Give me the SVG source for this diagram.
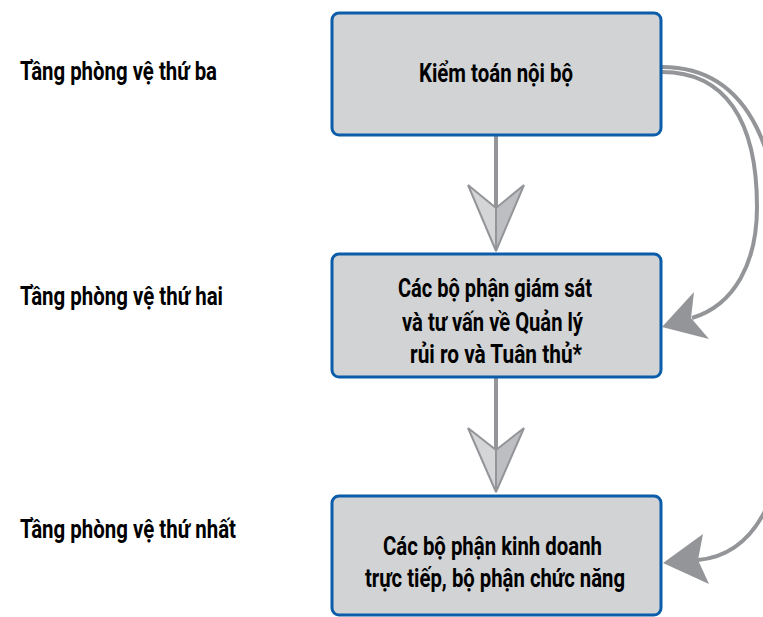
<svg xmlns="http://www.w3.org/2000/svg" width="763" height="617" viewBox="0 0 763 617">
<style>
.box{fill:#d1d3d4;stroke:#0b5ca9;stroke-width:3}
.t{font-family:Roboto,"Liberation Sans",sans-serif;font-weight:bold;font-size:25px;fill:#000}
.shaft{stroke:#939598;stroke-width:4;fill:none}
.curve{stroke:#939598;stroke-width:4;fill:none}
.hl{fill:#d4d5d7;stroke:#939598;stroke-width:2;stroke-linejoin:miter}
.hr{fill:#bdbec1;stroke:#939598;stroke-width:2;stroke-linejoin:miter}
.ah{fill:#939598}
</style>
<rect width="763" height="617" fill="#fff"/>
<g id="labels">
<text class="t" x="20" y="80" textLength="197" lengthAdjust="spacingAndGlyphs">Tầng phòng vệ thứ ba</text>
<text class="t" x="20" y="305" textLength="203" lengthAdjust="spacingAndGlyphs">Tầng phòng vệ thứ hai</text>
<text class="t" x="20" y="538" textLength="216" lengthAdjust="spacingAndGlyphs">Tầng phòng vệ thứ nhất</text>
</g>
<g id="connectors">
<line class="shaft" x1="496" y1="135" x2="496" y2="208"/>
<polygon class="hl" points="468,185 496,208 496,251"/>
<polygon class="hr" points="524,185 496,208 496,251"/>
<line class="shaft" x1="496" y1="377" x2="496" y2="450"/>
<polygon class="hl" points="468,428 496,450 496,492"/>
<polygon class="hr" points="524,428 496,450 496,492"/>
<path class="curve" d="M662,72 C725,72 757,120 757,207 C757,262 735,305 692,318"/>
<polygon class="ah" points="662,327 694,292 691,318 709,339"/>
<path class="curve" d="M662,67 C750,67 785,150 785,300 L785,410 C785,495 755,555 698,560"/>
<polygon class="ah" points="663,563 703,534 698,560 709,584"/>
</g>
<g id="node1">
<rect class="box" x="332" y="13" width="329" height="122" rx="7"/>
<text class="t" x="419" y="82" textLength="154" lengthAdjust="spacingAndGlyphs">Kiểm toán nội bộ</text>
</g>
<g id="node2">
<rect class="box" x="332" y="254" width="329" height="123" rx="7"/>
<text class="t" x="398" y="297" textLength="194" lengthAdjust="spacingAndGlyphs">Các bộ phận giám sát</text>
<text class="t" x="402" y="331" textLength="181" lengthAdjust="spacingAndGlyphs">và tư vấn về Quản lý</text>
<text class="t" x="410" y="363" textLength="172" lengthAdjust="spacingAndGlyphs">rủi ro và Tuân thủ*</text>
</g>
<g id="node3">
<rect class="box" x="332" y="496" width="329" height="119" rx="7"/>
<text class="t" x="383" y="555" textLength="219" lengthAdjust="spacingAndGlyphs">Các bộ phận kinh doanh</text>
<text class="t" x="365" y="587" textLength="260" lengthAdjust="spacingAndGlyphs">trực tiếp, bộ phận chức năng</text>
</g>
</svg>
